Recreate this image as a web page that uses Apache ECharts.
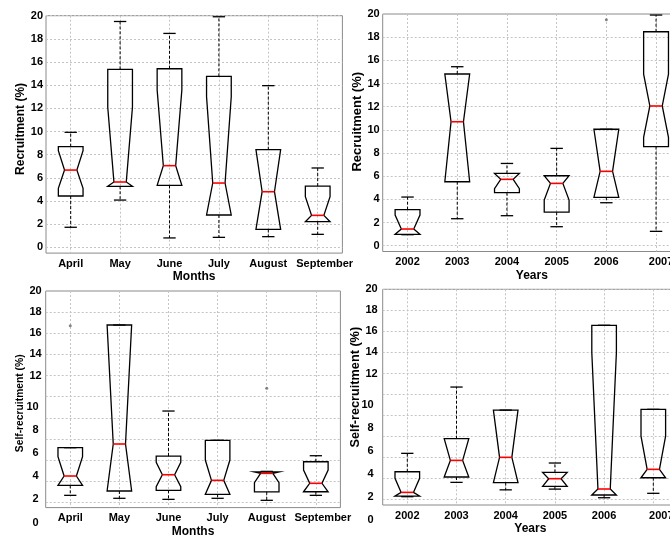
<!DOCTYPE html>
<html><head><meta charset="utf-8">
<script src="https://cdn.jsdelivr.net/npm/echarts@6/dist/echarts.min.js"></script>
<style>html,body{margin:0;padding:0;background:#fff}#c{width:670px;height:540px}</style>
</head><body><div id="c"></div>
<script>
// ---------- categories & tick labels ----------
const months = ['April', 'May', 'June', 'July', 'August', 'September'];
const years = ['2002', '2003', '2004', '2005', '2006', '2007'];
const yTicksFull = [0, 2, 4, 6, 8, 10, 12, 14, 16, 18, 20];
const yTicksUpper = [12, 14, 16, 18, 20];
const yTicksLower = [0, 2, 4, 6, 8, 10];

// ---------- Recruitment by month ----------
const recMonthLowWhisker  = [1.73, 4.08, 0.81, 0.86, 0.92, 1.12];
const recMonthQ1          = [4.43, 5.27, 5.35, 2.79, 1.55, 2.21];
const recMonthNotchLow    = [5.09, 5.27, 5.35, 2.79, 1.55, 2.21];
const recMonthMedian      = [6.67, 5.64, 7.05, 5.55, 4.80, 2.76];
const recMonthNotchHigh   = [8.34, 12.09, 13.58, 13.0, 8.43, 4.37];
const recMonthQ3          = [8.69, 15.37, 15.42, 14.76, 8.43, 5.29];
const recMonthHighWhisker = [9.93, 19.5, 18.47, 19.91, 13.96, 6.85];
const recMonthOutliers    = [];

// ---------- Recruitment by year ----------
const recYearLowWhisker  = [0.95, 2.33, 2.59, 1.64, 3.71, 1.24];
const recYearQ1          = [0.98, 5.52, 4.58, 2.90, 4.18, 8.55];
const recYearNotchLow    = [0.98, 5.52, 4.93, 3.94, 4.18, 9.36];
const recYearMedian      = [1.44, 10.70, 5.73, 5.38, 6.42, 12.06];
const recYearNotchHigh   = [2.65, 14.82, 6.24, 6.04, 10.05, 14.8];
const recYearQ3          = [3.11, 14.82, 6.24, 6.04, 10.05, 18.47];
const recYearHighWhisker = [4.20, 15.45, 7.10, 8.40, 10.05, 19.91];
const recYearOutliers    = [[4, 19.5]];

// ---------- Self-recruitment by month ----------
const selfMonthLowWhisker  = [0.66, 0.38, 0.28, 0.38, 0.19, 0.66];
const selfMonthQ1          = [1.61, 1.07, 1.13, 0.76, 0.98, 1.00];
const selfMonthNotchLow    = [1.61, 1.07, 1.48, 0.76, 1.86, 1.00];
const selfMonthMedian      = [2.49, 5.52, 2.61, 2.08, 2.74, 1.80];
const selfMonthNotchHigh   = [4.32, 16.78, 3.78, 4.00, 2.87, 3.06];
const selfMonthQ3          = [5.17, 16.78, 4.38, 5.87, 2.87, 3.84];
const selfMonthHighWhisker = [5.17, 16.78, 8.64, 5.87, 2.93, 4.41];
const selfMonthOutliers    = [[0, 16.71], [4, 10.79]];

// ---------- Self-recruitment by year ----------
const selfYearLowWhisker  = [0.29, 1.65, 0.94, 1.01, 0.19, 0.61];
const selfYearQ1          = [0.35, 2.16, 1.63, 1.27, 0.45, 2.09];
const selfYearNotchLow    = [0.35, 2.16, 1.63, 1.27, 0.45, 2.09];
const selfYearMedian      = [0.70, 3.74, 4.03, 2.00, 1.02, 2.89];
const selfYearNotchHigh   = [2.03, 5.80, 8.52, 2.60, 14.0, 6.05];
const selfYearQ3          = [2.66, 5.80, 8.52, 2.60, 16.58, 8.59];
const selfYearHighWhisker = [4.41, 10.71, 8.52, 3.49, 16.58, 8.59];
const selfYearOutliers    = [];

function rows(lw, q1, nlo, med, nhi, q3, uw) {
  return med.map((_, i) => [i, lw[i], q1[i], nlo[i], med[i], nhi[i], q3[i], uw[i]]);
}

const FONT = 'Liberation Sans';

const panels = [
  { cats: months, xName: 'Months', yName: 'Recruitment (%)', yNameSize: 12, yNameGap: 19, yNamePad: [0, 0, 0, 11],
    grid: { left: 46, top: 15.7, width: 296.4, height: 237.4 }, labelMargin: 3, split: false, lastShift: 14,
    data: rows(recMonthLowWhisker, recMonthQ1, recMonthNotchLow, recMonthMedian, recMonthNotchHigh, recMonthQ3, recMonthHighWhisker),
    outliers: recMonthOutliers },
  { cats: years, xName: 'Years', yName: 'Recruitment (%)', yNameSize: 13, yNameGap: 18, yNamePad: [0, 0, 0, 22],
    grid: { left: 382.7, top: 14, width: 298.2, height: 237.5 }, labelMargin: 3, split: false, lastShift: 10,
    data: rows(recYearLowWhisker, recYearQ1, recYearNotchLow, recYearMedian, recYearNotchHigh, recYearQ3, recYearHighWhisker),
    outliers: recYearOutliers },
  { cats: months, xName: 'Months', yName: 'Self-recruitment (%)', yNameSize: 10.3, yNameGap: 18, yNamePad: [0, 8, 0, 0],
    grid: { left: 45.7, top: 291, width: 294.7, height: 216.6 }, labelMargin: 4, split: true, lastShift: 14,
    lower: { top: 406.5, height: 116, margin: 7 },
    data: rows(selfMonthLowWhisker, selfMonthQ1, selfMonthNotchLow, selfMonthMedian, selfMonthNotchHigh, selfMonthQ3, selfMonthHighWhisker),
    outliers: selfMonthOutliers },
  { cats: years, xName: 'Years', yName: 'Self-recruitment (%)', yNameSize: 12.7, yNameGap: 10, yNamePad: [0, 0, 0, 20],
    grid: { left: 382.7, top: 289.3, width: 295.2, height: 215.7 }, labelMargin: 5, split: true, lastShift: 16,
    lower: { top: 404.5, height: 115, margin: 9 },
    data: rows(selfYearLowWhisker, selfYearQ1, selfYearNotchLow, selfYearMedian, selfYearNotchHigh, selfYearQ3, selfYearHighWhisker),
    outliers: selfYearOutliers }
];

function renderNotchBox(params, api) {
  const i = api.value(0);
  const yv = k => api.coord([i, api.value(k)])[1];
  const cx = api.coord([i, 0])[0];
  const band = api.size([1, 0])[0];
  const hw = band * 0.25, nw = hw * 0.5, cw = hw * 0.5;
  const yLw = yv(1), yQ1 = yv(2), yNlo = yv(3), yMed = yv(4), yNhi = yv(5), yQ3 = yv(6), yUw = yv(7);
  const dash = { stroke: '#000', lineWidth: 1, lineDash: [3, 2], fill: null };
  const solid = { stroke: '#000', lineWidth: 1.3, fill: null };
  const ch = [];
  if (yUw < yQ3 - 0.5) ch.push({ type: 'line', shape: { x1: cx, y1: yQ3, x2: cx, y2: yUw }, style: dash });
  if (yLw > yQ1 + 0.5) ch.push({ type: 'line', shape: { x1: cx, y1: yQ1, x2: cx, y2: yLw }, style: dash });
  ch.push({ type: 'line', shape: { x1: cx - cw, y1: yUw, x2: cx + cw, y2: yUw }, style: solid });
  ch.push({ type: 'line', shape: { x1: cx - cw, y1: yLw, x2: cx + cw, y2: yLw }, style: solid });
  ch.push({ type: 'polygon', shape: { points: [
    [cx - hw, yQ1], [cx - hw, yNlo], [cx - nw, yMed], [cx - hw, yNhi], [cx - hw, yQ3],
    [cx + hw, yQ3], [cx + hw, yNhi], [cx + nw, yMed], [cx + hw, yNlo], [cx + hw, yQ1]
  ] }, style: { stroke: '#000', lineWidth: 1.3, fill: 'none' } });
  ch.push({ type: 'line', shape: { x1: cx - nw, y1: yMed, x2: cx + nw, y2: yMed }, style: { stroke: '#ff0000', lineWidth: 1.6 } });
  return { type: 'group', children: ch };
}

const grid = [], xAxis = [], yAxis = [], series = [];
const splitStyle = { show: true, lineStyle: { color: '#c4c4c4', width: 1, type: [2, 2] } };
const labelStyle = { color: '#000', fontFamily: FONT, fontWeight: 'bold', fontSize: 11 };

panels.forEach((p) => {
  const gi = grid.length;
  grid.push(Object.assign({ show: true, borderColor: '#8a8a8a', borderWidth: 1, backgroundColor: '#fff',
    containLabel: false, outerBoundsMode: 'none' }, p.grid));
  const idx = [0, 1, 2, 3, 4, 5];
  const last = p.cats.length - 1;
  xAxis.push({
    gridIndex: gi, type: 'value', min: -0.5, max: 5.5,
    name: p.xName, nameLocation: 'middle', nameGap: 18,
    nameTextStyle: { color: '#000', fontFamily: FONT, fontWeight: 'bold', fontSize: 12 },
    axisLine: { show: false },
    axisTick: { show: false, customValues: idx },
    axisLabel: Object.assign({
      customValues: idx, margin: 5,
      formatter: v => { const k = Math.round(v); return k === last ? '{last|' + p.cats[k] + '}' : p.cats[k]; },
      rich: { last: Object.assign({ padding: [0, 0, 0, p.lastShift] }, labelStyle) }
    }, labelStyle),
    splitLine: splitStyle
  });
  const shown = p.split ? yTicksUpper : yTicksFull;
  yAxis.push({
    gridIndex: gi, type: 'value', min: -0.5, max: 20,
    name: p.yName, nameLocation: 'middle', nameRotate: 90, nameGap: p.yNameGap,
    nameTextStyle: { color: '#000', fontFamily: FONT, fontWeight: 'bold', fontSize: p.yNameSize, padding: p.yNamePad },
    axisLine: { show: false },
    axisTick: { show: false, customValues: yTicksFull },
    axisLabel: Object.assign({ customValues: shown, margin: p.labelMargin }, labelStyle),
    splitLine: splitStyle
  });
  series.push({
    type: 'custom', xAxisIndex: gi, yAxisIndex: gi, renderItem: renderNotchBox,
    encode: { x: 0, y: [1, 2, 3, 4, 5, 6, 7] }, data: p.data, silent: true, z: 3
  });
  if (p.outliers.length) {
    series.push({
      type: 'scatter', xAxisIndex: gi, yAxisIndex: gi, data: p.outliers,
      symbol: 'circle', symbolSize: 3, itemStyle: { color: '#666' }, silent: true, z: 4
    });
  }
  if (p.lower) {
    const lg = grid.length;
    grid.push({ show: false, left: p.grid.left, top: p.lower.top, width: 5, height: p.lower.height, outerBoundsMode: 'none' });
    xAxis.push({ gridIndex: lg, type: 'value', show: false });
    yAxis.push({
      gridIndex: lg, type: 'value', min: 0, max: 10,
      axisLine: { show: false }, axisTick: { show: false, customValues: yTicksLower }, splitLine: { show: false },
      axisLabel: Object.assign({ margin: p.lower.margin, customValues: yTicksLower }, labelStyle)
    });
  }
});

const chart = echarts.init(document.getElementById('c'), null, { renderer: 'canvas' });
chart.setOption({ animation: false, backgroundColor: '#fff', grid, xAxis, yAxis, series });
</script></body></html>
